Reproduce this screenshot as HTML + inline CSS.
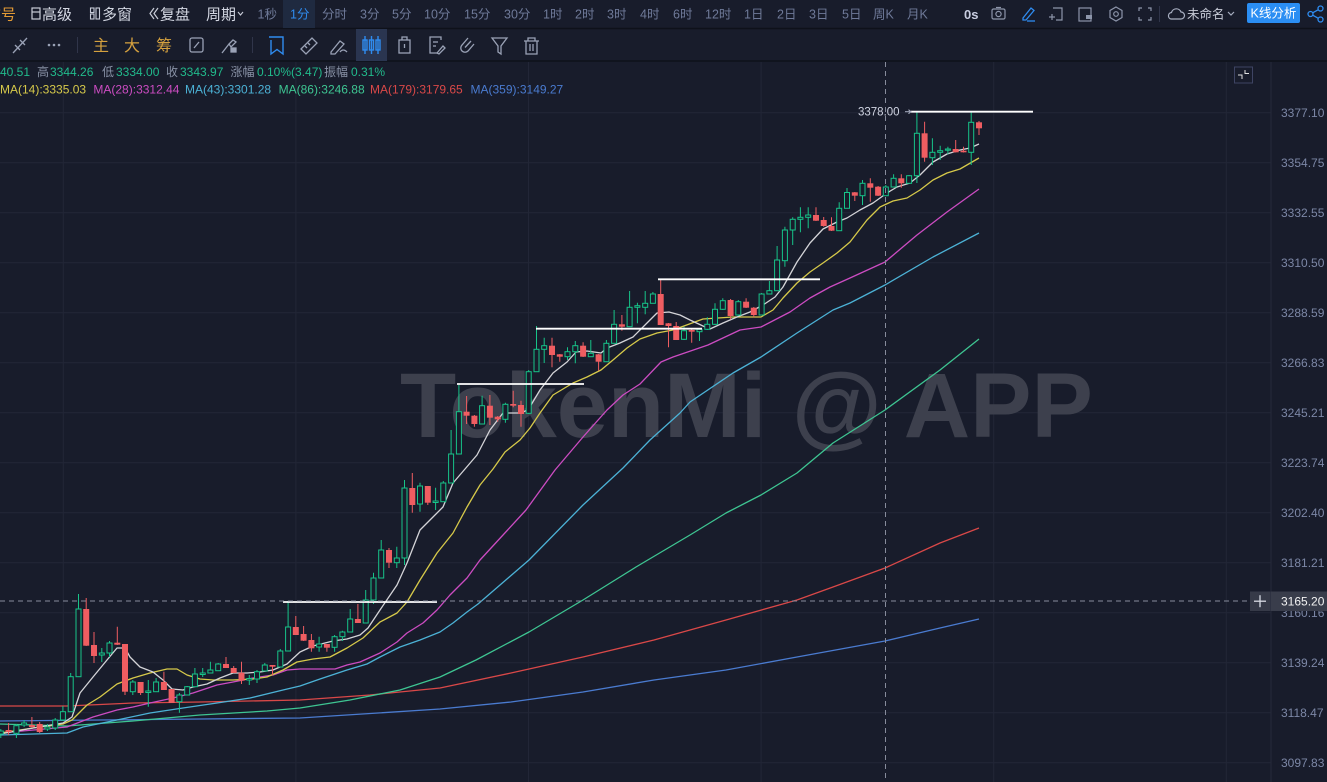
<!DOCTYPE html>
<html><head><meta charset="utf-8">
<style>
html,body{margin:0;padding:0;background:#181c2b;}
body{width:1327px;height:782px;overflow:hidden;}
svg{display:block;font-family:"Liberation Sans","Noto Sans CJK SC",sans-serif;}
</style></head>
<body>
<svg width="1327" height="782" viewBox="0 0 1327 782" xmlns="http://www.w3.org/2000/svg">
<rect x="0" y="0" width="1327" height="782" fill="#181c2b"/>
<!-- toolbar separators -->
<line x1="0" y1="28.5" x2="1327" y2="28.5" stroke="#0e111a" stroke-width="1.5"/>
<line x1="0" y1="61" x2="1327" y2="61" stroke="#0e111a" stroke-width="1.5"/>

<!-- ===== TOP ROW ===== -->
<g font-size="15" fill="#d3d7e2">
<text x="-14" y="19.5" fill="#e39a35">信号</text>
<rect x="32" y="8" width="8" height="11" fill="none" stroke="#c8ccd8" stroke-width="1.2"/>
<line x1="32" y1="12" x2="40" y2="12" stroke="#c8ccd8" stroke-width="1.2"/>
<text x="42" y="19.5">高级</text>
<rect x="90.5" y="8" width="3.5" height="4.5" fill="none" stroke="#c8ccd8" stroke-width="1.1"/>
<rect x="90.5" y="14" width="3.5" height="5" fill="none" stroke="#c8ccd8" stroke-width="1.1"/>
<rect x="96" y="8" width="3.5" height="11" fill="none" stroke="#c8ccd8" stroke-width="1.1"/>
<text x="102" y="19.5">多窗</text>
<polyline points="154,8 150,13.5 154,19" fill="none" stroke="#c8ccd8" stroke-width="1.2"/>
<polyline points="158,8 154,13.5 158,19" fill="none" stroke="#c8ccd8" stroke-width="1.2"/>
<text x="160" y="19.5">复盘</text>
<text x="206" y="19.5">周期</text>
<polyline points="238,12 240.5,15 243,12" fill="none" stroke="#c8ccd8" stroke-width="1.1"/>
</g>
<rect x="283" y="0" width="32" height="28" fill="#1f2a40"/>
<g font-size="12.5" fill="#6f7a99">
<text x="257.5" y="18.5">1秒</text>
<text x="290" y="18.5" fill="#2f8cf0">1分</text>
<text x="322" y="18.5">分时</text>
<text x="360" y="18.5">3分</text>
<text x="392" y="18.5">5分</text>
<text x="424" y="18.5">10分</text>
<text x="464" y="18.5">15分</text>
<text x="504" y="18.5">30分</text>
<text x="543" y="18.5">1时</text>
<text x="575" y="18.5">2时</text>
<text x="607" y="18.5">3时</text>
<text x="640" y="18.5">4时</text>
<text x="673" y="18.5">6时</text>
<text x="705" y="18.5">12时</text>
<text x="744" y="18.5">1日</text>
<text x="777" y="18.5">2日</text>
<text x="809" y="18.5">3日</text>
<text x="842" y="18.5">5日</text>
<text x="873" y="18.5">周K</text>
<text x="907" y="18.5">月K</text>
</g>
<text x="964" y="19" font-size="13" font-weight="bold" fill="#c8cde0">0s</text>
<!-- camera -->
<g fill="none" stroke="#8d95aa" stroke-width="1.2">
<rect x="992" y="9" width="13" height="10" rx="1.5"/>
<circle cx="998.5" cy="14" r="2.6"/>
<line x1="996" y1="7.5" x2="1001" y2="7.5"/>
</g>
<!-- pencil blue -->
<g fill="none" stroke="#2f8cf0" stroke-width="1.3">
<path d="M1023 18 L1031 8 L1034 10.5 L1026 20 L1023 20 Z"/>
<line x1="1027" y1="21" x2="1035" y2="21"/>
</g>
<!-- add box -->
<g fill="none" stroke="#8d95aa" stroke-width="1.2">
<path d="M1053 8 H1062 V20 H1056"/>
<line x1="1049" y1="17" x2="1055" y2="17"/><line x1="1052" y1="14" x2="1052" y2="20"/>
<rect x="1079" y="8" width="12" height="13"/>
<path d="M1116 7 L1122 10.5 V17.5 L1116 21 L1110 17.5 V10.5 Z"/>
<circle cx="1116" cy="14" r="2.3"/>
<path d="M1139 11 V8 H1142 M1148 8 H1151 V11 M1151 17 V20 H1148 M1142 20 H1139 V17"/>
</g>
<rect x="1086" y="15" width="6" height="4" fill="#8d95aa"/>
<line x1="1159.5" y1="6" x2="1159.5" y2="22" stroke="#30354a"/>
<g fill="none" stroke="#a7aec0" stroke-width="1.2">
<path d="M1171 19 H1181 A3.5 3.5 0 0 0 1181 12 A5 5 0 0 0 1171.5 12.5 A3.3 3.3 0 0 0 1171 19 Z"/>
<polyline points="1228,12 1231,15 1234,12"/>
</g>
<text x="1187" y="18.5" font-size="12.5" fill="#c8ccd8">未命名</text>
<rect x="1247" y="3" width="53" height="20" rx="2" fill="#2b8ef3"/>
<text x="1250.5" y="17.5" font-size="12.5" fill="#ffffff">K线分析</text>
<g fill="none" stroke="#2f8cf0" stroke-width="1.3">
<circle cx="1320.5" cy="8.5" r="2.5"/><circle cx="1310.5" cy="14" r="2.5"/><circle cx="1320.5" cy="19.5" r="2.5"/>
<line x1="1312.7" y1="12.8" x2="1318.3" y2="9.7"/><line x1="1312.7" y1="15.2" x2="1318.3" y2="18.3"/>
</g>

<!-- ===== SECOND ROW ===== -->
<g fill="none" stroke="#9aa2b6" stroke-width="1.3">
<line x1="13" y1="53" x2="27" y2="38"/>
<line x1="15" y1="45" x2="20" y2="50"/><line x1="20" y1="40" x2="25" y2="45"/>
</g>
<circle cx="49" cy="45" r="1.3" fill="#9aa2b6"/><circle cx="54" cy="45" r="1.3" fill="#9aa2b6"/><circle cx="59" cy="45" r="1.3" fill="#9aa2b6"/>
<line x1="77.5" y1="37" x2="77.5" y2="53" stroke="#30354a"/>
<g font-size="16" fill="#d5a13f">
<text x="93" y="51">主</text><text x="124" y="51">大</text><text x="156" y="51">筹</text>
</g>
<g fill="none" stroke="#9aa2b6" stroke-width="1.3">
<rect x="190" y="38" width="13" height="14" rx="2"/>
<path d="M194 48 L199 42"/>
<path d="M222 53 L229 44 M229 44 L233 40 L236 42 L231 47 Z"/>
<rect x="231" y="48" width="5" height="4" fill="#9aa2b6"/>
</g>
<line x1="252.5" y1="37" x2="252.5" y2="53" stroke="#30354a"/>
<g fill="none" stroke="#2f8cf0" stroke-width="1.4">
<path d="M269 37 H283 V54 L277 49.5 L271 54 V40"/>
</g>
<g fill="none" stroke="#9aa2b6" stroke-width="1.3">
<path d="M301 49 L312 38 L317 43 L306 54 Z"/>
<line x1="305" y1="46" x2="307" y2="48"/><line x1="308" y1="43" x2="310" y2="45"/>
<path d="M331 52 L340 41 L344 44 L335 54 L331 54 Z"/><path d="M340 52 Q343 48 347 52"/>
</g>
<rect x="356" y="29" width="31" height="32" fill="#2a3550"/>
<g fill="none" stroke="#2f8cf0" stroke-width="1.4">
<rect x="363" y="40" width="4" height="10"/><line x1="365" y1="36" x2="365" y2="54"/>
<rect x="369.5" y="40" width="4" height="10"/><line x1="371.5" y1="36" x2="371.5" y2="54"/>
<rect x="376" y="40" width="4" height="10"/><line x1="378" y1="36" x2="378" y2="54"/>
</g>
<g fill="none" stroke="#9aa2b6" stroke-width="1.3">
<rect x="399" y="40" width="11" height="13"/><path d="M402 40 V37 H407 V40"/><line x1="404.5" y1="44" x2="404.5" y2="48"/>
<path d="M441 40 V37 H430 V53 H437"/><line x1="433" y1="42" x2="438" y2="42"/><line x1="433" y1="46" x2="436" y2="46"/>
<path d="M437 53 L443 46 L445 48 L439 54 Z"/>
<path d="M468 38 L462 45 A4 4 0 0 0 468 51 L474 44"/><path d="M471 41 L465 47.5"/>
<path d="M492 38 H507 L501 46 V54 L498 52 V46 Z"/>
<path d="M524 41 H539 M528 41 V38 H535 V41 M526 41 V54 H537 V41"/><line x1="530" y1="44" x2="530" y2="51"/><line x1="533" y1="44" x2="533" y2="51"/>
</g>

<!-- ===== CHART GRID ===== -->
<g stroke="#222637" stroke-width="1">
<line x1="63.3" y1="62" x2="63.3" y2="782"/>
<line x1="295.9" y1="62" x2="295.9" y2="782"/>
<line x1="528.5" y1="62" x2="528.5" y2="782"/>
<line x1="761.1" y1="62" x2="761.1" y2="782"/>
<line x1="993.7" y1="62" x2="993.7" y2="782"/>
<line x1="1226.3" y1="62" x2="1226.3" y2="782"/>
<line x1="0" y1="112.7" x2="1271" y2="112.7"/>
<line x1="0" y1="162.7" x2="1271" y2="162.7"/>
<line x1="0" y1="212.7" x2="1271" y2="212.7"/>
<line x1="0" y1="262.7" x2="1271" y2="262.7"/>
<line x1="0" y1="312.7" x2="1271" y2="312.7"/>
<line x1="0" y1="362.7" x2="1271" y2="362.7"/>
<line x1="0" y1="412.7" x2="1271" y2="412.7"/>
<line x1="0" y1="462.7" x2="1271" y2="462.7"/>
<line x1="0" y1="512.7" x2="1271" y2="512.7"/>
<line x1="0" y1="562.7" x2="1271" y2="562.7"/>
<line x1="0" y1="612.7" x2="1271" y2="612.7"/>
<line x1="0" y1="662.7" x2="1271" y2="662.7"/>
<line x1="0" y1="712.7" x2="1271" y2="712.7"/>
<line x1="0" y1="762.7" x2="1271" y2="762.7"/>
</g>
<line x1="1271" y1="62" x2="1271" y2="782" stroke="#262a3b"/>

<!-- watermark -->
<text x="400" y="437" font-size="92" font-weight="bold" fill="#3d404d">TokenMi @ APP</text>

<!-- ===== MA LINES ===== -->
<g fill="none" stroke-width="1.3" stroke-linejoin="round">
<polyline stroke="#4a7bd0" points="0,721 100,720 200,719 300,718 440,709 511,702 583,692 654,680 726,670 797,657 885,641 940,628 979,619"/>
<polyline stroke="#d94848" points="0,706 67,706 133,703 200,702 300,700 370,695 440,688 511,673 583,657 654,640 726,620 797,600 833,587 885,568 940,543 979,528"/>
<polyline stroke="#3ec592" points="0,724 67,726 133,721 200,715 267,711 300,708 350,700 400,690 440,677 476,660 529,632 583,600 636,567 690,535 726,513 761,495 797,473 833,443 885,410 940,370 979,339"/>
<polyline stroke="#4cb2d6" points="0,735 67,733 83,727 117,720 150,713 183,708 217,703 250,698 283,690 300,686 320,679 347,670 367,664 380,657 400,647 420,640 440,632 453,623 467,612 478,604 529,560 583,505 623,468 650,440 680,413 690,402 733,373 761,357 797,333 833,310 850,303 885,285 933,257 979,233"/>
<polyline stroke="#cc4cc2" points="0,733 67,727 93,717 117,710 133,707 150,703 173,698 193,693 217,685 233,682 253,678 273,675 287,670 300,669 335,669 347,665 360,662 380,653 397,642 407,633 423,623 437,610 450,595 467,578 480,560 526,510 555,470 583,437 607,410 623,395 640,384 661,362 673,357 708,345 740,330 761,327 790,312 810,298 830,287 850,278 885,262 917,235 947,212 979,189"/>
<polyline stroke="#d6c94a" points="0,733 33,728 63,724 72,720 87,705 100,697 117,684 133,678 150,673 167,669 177,669 187,675 200,679 213,680 233,680 253,679 267,677 283,670 297,662 313,659 330,657 347,648 363,638 380,622 397,613 407,602 420,580 437,553 453,533 467,507 480,485 493,469 505,452 520,440 530,428 540,413 553,395 573,383 587,377 601,370 613,360 627,348 640,339 657,333 673,330 703,319 733,317 761,317 773,310 783,298 797,283 810,272 823,263 837,253 850,242 867,220 880,207 893,201 907,198 920,190 933,180 947,173 960,169 979,158"/>
<polyline stroke="#d4d4d8" points="0,734 33,728 63,723 72,717 80,693 93,677 107,660 117,648 125,648 130,657 140,667 153,672 163,680 172,689 183,690 193,687 207,684 220,678 233,673 247,673 260,672 273,670 287,664 300,652 313,646 333,641 347,639 360,635 368,628 380,610 397,585 407,563 420,530 433,517 443,507 453,483 465,469 477,455 490,430 503,413 520,413 528,410 540,390 553,373 567,362 576,352 587,351 601,353 607,348 620,343 633,337 647,323 657,313 669,312 680,315 690,320 703,326 710,329 723,323 737,317 750,312 763,305 775,297 783,287 797,262 810,243 823,229 837,222 847,218 860,210 873,203 887,193 897,187 910,183 920,175 933,162 947,154 960,150 970,148 979,144"/>
</g>

<!-- ===== CANDLES ===== -->
<path fill="none" stroke="#17c489" stroke-width="1" d="M0.8 729V738M16.4 724V738M24.1 720V727M47.4 724V731M55.2 718V730M62.9 706V721M70.7 673V712M78.5 594V677M101.8 648V662M109.5 641V657M132.8 680V695M148.3 680V706.7M156.1 678V692M179.4 693V712.7M187.2 686V695M194.9 668V687M202.7 668V677M210.4 661.7V673M218.2 663V671M249.3 675V685M257 670V683M264.8 663V671M280.3 649V667M288.1 600.7V651M319.1 636.7V651.7M334.6 635V651.7M342.4 630.7V641M350.2 609V632M365.7 590V623M373.5 572.7V604M381.2 540V578M396.8 546.7V568M404.5 480V565M420 482.7V511.7M435.6 487.7V510M443.3 481V502M451.1 430V483M458.9 385V454M482.1 395.7V424M505.4 402.7V422.7M528.7 370V414M536.5 326V372M544.2 337.7V363M567.5 347.3V360M575.3 341V363.3M590.8 340V357M606.4 340V362M614.1 310V343.3M629.6 291V327M637.4 302.7V323.3M645.2 291V314.3M652.9 292V303.3M684 326.7V340M699.5 328V341M707.3 317.3V330M715 303.3V325M722.8 298.3V310M738.3 300V316M761.6 293V315M769.4 281V294M777.1 246V291M784.9 226.7V266.7M792.7 217.3V245M800.4 207.3V232.3M808.2 207.3V228.3M839.2 202.3V231M847 188V208.3M862.5 180V205M885.8 185V196M893.6 174.3V187M909.1 175V183.5M916.9 112.3V183M932.4 138.3V165M940.2 145.7V160M947.9 146.7V154.3M971.2 112.3V165"/>
<path fill="none" stroke="#ef5d61" stroke-width="1" d="M8.6 723V735M31.9 717V728M39.7 722V733M86.2 598V646M94 632V663M117.3 626.7V645M125 644V695M140.6 682V695M163.9 671.7V690M171.6 689V703M226 657V668M233.7 666V673M241.5 661.7V684M272.5 665V675M295.8 616V635M303.6 626V641M311.4 634V651.7M326.9 644V651.7M357.9 604V623M389 548V568M412.3 473V512.7M427.8 486V505M466.6 396V424M474.4 415V426.7M489.9 395V425M497.7 416V421.7M513.2 390.7V407.3M521 400.7V426.7M552 337.7V367.3M559.8 354V361.7M583.1 342.3V357M598.6 354V370.7M621.9 315V330.7M660.7 279.3V325M668.5 323V347.3M676.2 322V340M691.7 329V342.7M730.6 299V319.3M746.1 298.3V308M753.8 307V317.3M816 207.3V221M823.7 217V226.7M831.5 217.3V231M854.8 192V201M870.3 178.3V201.7M878.1 186V196M901.3 174.3V187.7M924.6 121.7V161.7M955.7 140V152.5M963.5 146.7V152.5M979 121V135"/>
<g fill="#181c2b" stroke="#17c489" stroke-width="1">
<rect x="-1.7" y="731" width="5" height="3"/>
<rect x="13.9" y="725.7" width="5" height="7.6"/>
<rect x="21.6" y="723" width="5" height="2"/>
<rect x="44.9" y="727" width="5" height="2"/>
<rect x="52.7" y="720" width="5" height="8"/>
<rect x="60.4" y="711.7" width="5" height="8.3"/>
<rect x="68.2" y="676.7" width="5" height="35"/>
<rect x="76" y="609" width="5" height="67.7"/>
<rect x="99.3" y="653" width="5" height="2"/>
<rect x="107" y="643" width="5" height="10"/>
<rect x="130.3" y="682" width="5" height="9.7"/>
<rect x="145.8" y="691" width="5" height="1.5"/>
<rect x="153.6" y="682" width="5" height="9.7"/>
<rect x="176.9" y="695" width="5" height="6.7"/>
<rect x="184.7" y="686.7" width="5" height="8.3"/>
<rect x="192.4" y="674" width="5" height="12.7"/>
<rect x="200.2" y="673" width="5" height="1.5"/>
<rect x="207.9" y="670" width="5" height="3"/>
<rect x="215.7" y="664" width="5" height="6.7"/>
<rect x="246.8" y="678.5" width="5" height="1.5"/>
<rect x="254.5" y="671.7" width="5" height="7.3"/>
<rect x="262.3" y="665" width="5" height="6"/>
<rect x="277.8" y="651" width="5" height="16"/>
<rect x="285.6" y="627" width="5" height="24"/>
<rect x="316.6" y="644" width="5" height="3"/>
<rect x="332.1" y="636.7" width="5" height="10.6"/>
<rect x="339.9" y="632" width="5" height="4.7"/>
<rect x="347.7" y="619" width="5" height="13"/>
<rect x="363.2" y="600" width="5" height="23"/>
<rect x="371" y="578" width="5" height="22"/>
<rect x="378.7" y="550" width="5" height="28"/>
<rect x="394.3" y="558" width="5" height="4.7"/>
<rect x="402" y="488" width="5" height="70"/>
<rect x="417.5" y="486" width="5" height="18"/>
<rect x="433.1" y="501" width="5" height="1.5"/>
<rect x="440.8" y="483" width="5" height="18.7"/>
<rect x="448.6" y="454" width="5" height="29"/>
<rect x="456.4" y="411.7" width="5" height="42.3"/>
<rect x="479.6" y="405.7" width="5" height="18.3"/>
<rect x="502.9" y="404.3" width="5" height="15"/>
<rect x="526.2" y="371.7" width="5" height="41.6"/>
<rect x="534" y="349.3" width="5" height="22.4"/>
<rect x="541.7" y="345.7" width="5" height="3.6"/>
<rect x="565" y="351.7" width="5" height="5"/>
<rect x="572.8" y="345.7" width="5" height="6"/>
<rect x="588.3" y="353.3" width="5" height="3.4"/>
<rect x="603.9" y="343.3" width="5" height="18.4"/>
<rect x="611.6" y="324.3" width="5" height="19"/>
<rect x="627.1" y="307.3" width="5" height="19.4"/>
<rect x="634.9" y="305.7" width="5" height="1.6"/>
<rect x="642.7" y="303.3" width="5" height="4"/>
<rect x="650.4" y="294" width="5" height="9.3"/>
<rect x="681.5" y="330.7" width="5" height="8.6"/>
<rect x="697" y="329.3" width="5" height="2.4"/>
<rect x="704.8" y="324.3" width="5" height="5"/>
<rect x="712.5" y="309.3" width="5" height="15"/>
<rect x="720.3" y="300.7" width="5" height="8.6"/>
<rect x="735.8" y="301.7" width="5" height="13.3"/>
<rect x="759.1" y="294" width="5" height="21"/>
<rect x="766.9" y="290.7" width="5" height="3.3"/>
<rect x="774.6" y="260" width="5" height="30.7"/>
<rect x="782.4" y="230" width="5" height="30.7"/>
<rect x="790.2" y="219.3" width="5" height="10.7"/>
<rect x="797.9" y="217.3" width="5" height="2"/>
<rect x="805.7" y="215" width="5" height="2.3"/>
<rect x="836.7" y="208.3" width="5" height="22.4"/>
<rect x="844.5" y="192.5" width="5" height="15.8"/>
<rect x="860" y="183.3" width="5" height="12.4"/>
<rect x="883.3" y="187" width="5" height="8.7"/>
<rect x="891.1" y="178.3" width="5" height="8.7"/>
<rect x="906.6" y="175.7" width="5" height="7.6"/>
<rect x="914.4" y="133.3" width="5" height="42.4"/>
<rect x="929.9" y="152.3" width="5" height="5.4"/>
<rect x="937.7" y="150.7" width="5" height="1.6"/>
<rect x="945.4" y="149" width="5" height="1.2"/>
<rect x="968.7" y="122.3" width="5" height="30"/>
</g>
<g fill="#ef5d61">
<rect x="5.6" y="730" width="6" height="2"/>
<rect x="28.9" y="725" width="6" height="2"/>
<rect x="36.7" y="724" width="6" height="8"/>
<rect x="83.2" y="609" width="6" height="36.7"/>
<rect x="91" y="645" width="6" height="11"/>
<rect x="114.3" y="642.7" width="6" height="2"/>
<rect x="122" y="644" width="6" height="47.7"/>
<rect x="137.6" y="682" width="6" height="11"/>
<rect x="160.9" y="682" width="6" height="8"/>
<rect x="168.6" y="689" width="6" height="14"/>
<rect x="223" y="664" width="6" height="4"/>
<rect x="230.7" y="668" width="6" height="5"/>
<rect x="238.5" y="672.7" width="6" height="8"/>
<rect x="269.5" y="665" width="6" height="1.7"/>
<rect x="292.8" y="627" width="6" height="8"/>
<rect x="300.6" y="634" width="6" height="6.7"/>
<rect x="308.4" y="640" width="6" height="8.3"/>
<rect x="323.9" y="644" width="6" height="3.7"/>
<rect x="354.9" y="619" width="6" height="4"/>
<rect x="386" y="550" width="6" height="12.7"/>
<rect x="409.3" y="488" width="6" height="17"/>
<rect x="424.8" y="486" width="6" height="16.7"/>
<rect x="463.6" y="411.7" width="6" height="4"/>
<rect x="471.4" y="415.7" width="6" height="8.3"/>
<rect x="486.9" y="405.7" width="6" height="12"/>
<rect x="494.7" y="416.7" width="6" height="2.6"/>
<rect x="510.2" y="404" width="6" height="1.7"/>
<rect x="518" y="405" width="6" height="9"/>
<rect x="549" y="345.7" width="6" height="9.3"/>
<rect x="556.8" y="354.3" width="6" height="2.4"/>
<rect x="580.1" y="345.7" width="6" height="11"/>
<rect x="595.6" y="354.3" width="6" height="7.4"/>
<rect x="618.9" y="324.3" width="6" height="2.4"/>
<rect x="657.7" y="294" width="6" height="31"/>
<rect x="665.5" y="323.3" width="6" height="2.7"/>
<rect x="673.2" y="326" width="6" height="14"/>
<rect x="688.7" y="330" width="6" height="1.7"/>
<rect x="727.6" y="300" width="6" height="16"/>
<rect x="743.1" y="301.7" width="6" height="6"/>
<rect x="750.8" y="307.7" width="6" height="7.3"/>
<rect x="813" y="215" width="6" height="5.7"/>
<rect x="820.7" y="220" width="6" height="6"/>
<rect x="828.5" y="226" width="6" height="4.7"/>
<rect x="851.8" y="192.3" width="6" height="3.4"/>
<rect x="867.3" y="183.3" width="6" height="4.4"/>
<rect x="875.1" y="186.7" width="6" height="9"/>
<rect x="898.3" y="178.3" width="6" height="5"/>
<rect x="921.6" y="133.3" width="6" height="24.4"/>
<rect x="952.7" y="149" width="6" height="3.3"/>
<rect x="960.5" y="150.7" width="6" height="1.6"/>
<rect x="976" y="122.3" width="6" height="6"/>
</g>

<!-- drawn horizontal lines -->
<g stroke="#ffffff" stroke-width="1.8">
<line x1="283" y1="602" x2="437" y2="602"/>
<line x1="457" y1="384" x2="584" y2="384"/>
<line x1="536" y1="328.7" x2="702" y2="328.7"/>
<line x1="658" y1="279.3" x2="820" y2="279.3"/>
<line x1="911" y1="111.7" x2="1033" y2="111.7"/>
</g>
<text x="858" y="115.5" font-size="11.5" fill="#d0d4e2">3378.00</text>
<line x1="905" y1="111.7" x2="911" y2="111.7" stroke="#aab0c2" stroke-width="1"/>
<polyline points="908.5,109.7 911,111.7 908.5,113.7" fill="none" stroke="#aab0c2" stroke-width="1"/>

<!-- crosshair -->
<g stroke="#878c9c" stroke-width="1" stroke-dasharray="5,4">
<line x1="885.5" y1="62" x2="885.5" y2="782"/>
<line x1="0" y1="601" x2="1250" y2="601"/>
</g>

<!-- axis labels -->
<g font-size="12" fill="#7c87a6">
<text x="1281" y="117">3377.10</text>
<text x="1281" y="167">3354.75</text>
<text x="1281" y="217">3332.55</text>
<text x="1281" y="267">3310.50</text>
<text x="1281" y="317">3288.59</text>
<text x="1281" y="367">3266.83</text>
<text x="1281" y="417">3245.21</text>
<text x="1281" y="467">3223.74</text>
<text x="1281" y="517">3202.40</text>
<text x="1281" y="567">3181.21</text>
<text x="1281" y="617">3160.16</text>
<text x="1281" y="667">3139.24</text>
<text x="1281" y="717">3118.47</text>
<text x="1281" y="767">3097.83</text>
</g>
<rect x="1250" y="591.5" width="20.5" height="19.5" fill="#363a48"/>
<line x1="1254" y1="601.2" x2="1266" y2="601.2" stroke="#d8dbe4" stroke-width="1.3"/>
<line x1="1260" y1="595.2" x2="1260" y2="607.2" stroke="#d8dbe4" stroke-width="1.3"/>
<rect x="1271" y="591.5" width="56" height="19.5" fill="#393d4b"/>
<text x="1281" y="605.5" font-size="12" fill="#f2f2f2">3165.20</text>

<!-- top-right small box -->
<rect x="1234.5" y="67" width="18" height="16" fill="none" stroke="#3e4463" stroke-width="1"/>
<polyline points="1238,75 1242,75 1242,79" fill="none" stroke="#e0e0e0" stroke-width="1"/>
<polyline points="1245,70 1245,73.5 1249,73.5" fill="none" stroke="#e0e0e0" stroke-width="1"/>

<!-- info rows -->
<g font-size="12">
<text x="0" y="76" fill="#21bb8c">40.51</text>
<text x="37" y="76" fill="#8992a6">高</text>
<text x="50" y="76" fill="#21bb8c">3344.26</text>
<text x="102" y="76" fill="#8992a6">低</text>
<text x="116" y="76" fill="#21bb8c">3334.00</text>
<text x="166" y="76" fill="#8992a6">收</text>
<text x="180" y="76" fill="#21bb8c">3343.97</text>
<text x="230.5" y="76" fill="#8992a6">涨幅</text>
<text x="257" y="76" fill="#21bb8c">0.10%(3.47)</text>
<text x="324" y="76" fill="#8992a6">振幅</text>
<text x="351" y="76" fill="#21bb8c">0.31%</text>
<text x="0" y="93.5" fill="#d6c94a">MA(14):3335.03</text>
<text x="93.4" y="93.5" fill="#cc4cc2">MA(28):3312.44</text>
<text x="185" y="93.5" fill="#4cb2d6">MA(43):3301.28</text>
<text x="278.6" y="93.5" fill="#3ec592">MA(86):3246.88</text>
<text x="370" y="93.5" fill="#d94848">MA(179):3179.65</text>
<text x="470.5" y="93.5" fill="#4a7bd0">MA(359):3149.27</text>
</g>
</svg>
</body></html>
